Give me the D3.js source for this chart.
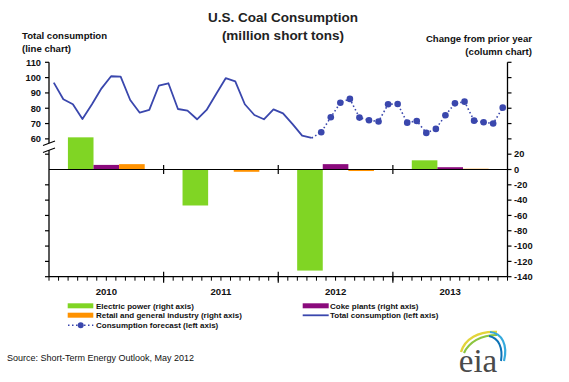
<!DOCTYPE html>
<html>
<head>
<meta charset="utf-8">
<script src="https://cdn.jsdelivr.net/npm/d3@7"></script>
<style>
  html, body { margin: 0; padding: 0; background: #fff; }
  svg { display: block; font-family: "Liberation Sans", Arial, sans-serif; }
</style>
</head>
<body>
<svg id="chart" width="569" height="382"></svg>
<script>
// ---------------- DATA ----------------
const years = ["2010", "2011", "2012", "2013"];
const seriesNames = ["Electric power", "Coke plants", "Retail and general industry"];
const electricPower = [42, -47, -132, 12];
const cokePlants = [6, 0, 7, 3];
const retailIndustry = [7, -3, -2, 1];

// Monthly total consumption, Jan 2010 - Apr 2012 (actual)
const totalConsumption = [
  96.7, 85.9, 82.6, 73.0, 82.6, 93.0, 100.9, 100.6, 85.4, 77.1, 78.9, 94.7,
  96.3, 79.5, 78.4, 72.8, 78.9, 89.3, 99.6, 97.6, 82.6, 75.6, 72.8, 79.3,
  76.7, 69.6, 62.1, 60.6
];
// Monthly consumption forecast, May 2012 - Dec 2013
const consumptionForecast = [
  64.3, 74.1, 83.6, 86.1, 73.9, 72.2, 71.3, 82.6,
  82.8, 70.6, 71.7, 63.9, 66.5, 75.4, 83.2, 84.3, 71.9, 70.9, 70.0, 80.4
];
const leftTickValues = [60, 70, 80, 90, 100, 110];
const rightTickValues = [-140, -120, -100, -80, -60, -40, -20, 0, 20];
const rightTickMarks = [-140, -120, -100, -80, -60, -40, -20, 0, 20, 40, 60, 80, 100, 120, 140];
const lowerLeftTickMarks = [-140, -120, -100, -80, -60, -40, -20, 20];

// ---------------- LAYOUT ----------------
const svg = d3.select("#chart");
const X0 = 49, X1 = 507.5, YT = 62.3, YB = 276.7;
const colors = { electric: "#80d524", coke: "#8a0a7c", retail: "#ff9200", line: "#3a47ad" };
const txt = "#111";

const yR = d3.scaleLinear().domain([-140, 140]).range([YB, YT]);
const yL = d3.scaleLinear().domain([-30, 110]).range([YB, YT]);
const months = d3.range(48);
const xM = d3.scaleBand().domain(months).range([X0, X1]).padding(0);
const xMc = i => xM(i) + xM.bandwidth() / 2;
const xY = d3.scaleBand().domain(years).range([X0, X1]).paddingInner(0.33).paddingOuter(0.165);
const xS = d3.scaleBand().domain(seriesNames).range([0, xY.bandwidth()]);

// ---------------- TITLES ----------------
svg.append("text").attr("x", 283).attr("y", 22).attr("text-anchor", "middle")
  .attr("font-size", 13.5).attr("font-weight", "bold").attr("fill", "#222").text("U.S. Coal Consumption");
svg.append("text").attr("x", 283).attr("y", 40).attr("text-anchor", "middle")
  .attr("font-size", 13.5).attr("font-weight", "bold").attr("fill", "#222").text("(million short tons)");

svg.append("text").attr("x", 22).attr("y", 39).attr("font-size", 9.6).attr("font-weight", "bold")
  .attr("fill", txt).text("Total consumption");
svg.append("text").attr("x", 22).attr("y", 51.5).attr("font-size", 9.6).attr("font-weight", "bold")
  .attr("fill", txt).text("(line chart)");
svg.append("text").attr("x", 532).attr("y", 42).attr("text-anchor", "end").attr("font-size", 9.6)
  .attr("font-weight", "bold").attr("fill", txt).text("Change from prior year");
svg.append("text").attr("x", 532).attr("y", 54.5).attr("text-anchor", "end").attr("font-size", 9.6)
  .attr("font-weight", "bold").attr("fill", txt).text("(column chart)");

// ---------------- BARS ----------------
const barData = [];
years.forEach((yr, i) => {
  barData.push({ year: yr, s: seriesNames[0], v: electricPower[i], c: colors.electric });
  barData.push({ year: yr, s: seriesNames[1], v: cokePlants[i], c: colors.coke });
  barData.push({ year: yr, s: seriesNames[2], v: retailIndustry[i], c: colors.retail });
});
svg.append("g").selectAll("rect").data(barData).join("rect")
  .attr("x", d => xY(d.year) + xS(d.s))
  .attr("width", xS.bandwidth())
  .attr("y", d => Math.min(yR(d.v), yR(0)))
  .attr("height", d => Math.abs(yR(d.v) - yR(0)))
  .attr("fill", d => d.c);

// ---------------- ZERO LINE ----------------
svg.append("line").attr("x1", X0).attr("x2", X1).attr("y1", yR(0)).attr("y2", yR(0))
  .attr("stroke", "#000").attr("stroke-width", 1.2);
const yearBounds = [1, 2, 3].map(k => xM(k * 12));
svg.append("g").selectAll("line").data(yearBounds).join("line")
  .attr("x1", d => d).attr("x2", d => d).attr("y1", yR(0) - 4.5).attr("y2", yR(0) + 4.5)
  .attr("stroke", "#000").attr("stroke-width", 1.2);

// ---------------- BOTTOM AXIS ----------------
svg.append("line").attr("x1", X0).attr("x2", X1).attr("y1", YB).attr("y2", YB)
  .attr("stroke", "#000").attr("stroke-width", 1.3);
svg.append("g").selectAll("line").data(d3.range(49)).join("line")
  .attr("x1", i => i < 48 ? xM(i) : X1).attr("x2", i => i < 48 ? xM(i) : X1)
  .attr("y1", YB).attr("y2", YB + 4)
  .attr("stroke", "#000").attr("stroke-width", 1);
svg.append("g").selectAll("line").data(yearBounds).join("line")
  .attr("x1", d => d).attr("x2", d => d).attr("y1", YB - 5).attr("y2", YB + 6)
  .attr("stroke", "#000").attr("stroke-width", 1.2);
svg.append("g").selectAll("text").data(years).join("text")
  .attr("x", d => xY(d) + xY.bandwidth() / 2).attr("y", 294.5).attr("text-anchor", "middle")
  .attr("font-size", 9.6).attr("font-weight", "bold").attr("fill", txt).text(d => d);

// ---------------- RIGHT AXIS ----------------
svg.append("line").attr("x1", X1).attr("x2", X1).attr("y1", YT).attr("y2", YB)
  .attr("stroke", "#000").attr("stroke-width", 1.3);
svg.append("g").selectAll("line").data(rightTickMarks).join("line")
  .attr("x1", X1).attr("x2", X1 + 4).attr("y1", d => yR(d)).attr("y2", d => yR(d))
  .attr("stroke", "#000").attr("stroke-width", 1.2);
svg.append("g").selectAll("text").data(rightTickValues).join("text")
  .attr("x", 514).attr("y", d => yR(d) + 3.3).attr("font-size", 9.3).attr("font-weight", "bold")
  .attr("fill", txt).text(d => d < 0 ? "-" + Math.abs(d) : d);

// ---------------- LEFT AXIS ----------------
svg.append("line").attr("x1", X0).attr("x2", X0).attr("y1", YT).attr("y2", YB)
  .attr("stroke", "#000").attr("stroke-width", 1.3);
svg.append("g").selectAll("line").data(leftTickValues).join("line")
  .attr("x1", X0 - 4).attr("x2", X0).attr("y1", d => yL(d)).attr("y2", d => yL(d))
  .attr("stroke", "#000").attr("stroke-width", 1.2);
svg.append("g").selectAll("line").data(lowerLeftTickMarks).join("line")
  .attr("x1", X0 - 4).attr("x2", X0).attr("y1", d => yR(d)).attr("y2", d => yR(d))
  .attr("stroke", "#000").attr("stroke-width", 1.2);
svg.append("g").selectAll("text").data(leftTickValues).join("text")
  .attr("x", 41).attr("y", d => yL(d) + 3.3).attr("text-anchor", "end").attr("font-size", 9.3)
  .attr("font-weight", "bold").attr("fill", txt).text(d => d);
// axis break
svg.append("path").attr("d", "M42,146 L55,141 L55,148 L42,153 Z").attr("fill", "#fff");
svg.append("line").attr("x1", 43).attr("y1", 145.5).attr("x2", 55).attr("y2", 141)
  .attr("stroke", "#000").attr("stroke-width", 1.1);
svg.append("line").attr("x1", 43).attr("y1", 152.5).attr("x2", 55).attr("y2", 148)
  .attr("stroke", "#000").attr("stroke-width", 1.1);

// ---------------- LINES ----------------
const line = d3.line().x(d => xMc(d.i)).y(d => yL(d.v));
const actual = totalConsumption.map((v, i) => ({ i, v }));
const nA = totalConsumption.length;
const fc = consumptionForecast.map((v, j) => ({ i: nA + j, v }));
svg.append("path").datum([actual[nA - 1]].concat(fc)).attr("d", line)
  .attr("fill", "none").attr("stroke", colors.line).attr("stroke-width", 1.6)
  .attr("stroke-dasharray", "1.5,2.5");
svg.append("path").datum(actual).attr("d", line)
  .attr("fill", "none").attr("stroke", colors.line).attr("stroke-width", 1.8)
  .attr("stroke-linejoin", "round");
svg.append("g").selectAll("circle").data(fc).join("circle")
  .attr("cx", d => xMc(d.i)).attr("cy", d => yL(d.v)).attr("r", 3.3).attr("fill", colors.line);

// ---------------- LEGEND ----------------
const lg = svg.append("g").attr("font-size", 8).attr("font-weight", "bold").attr("fill", txt);
lg.append("rect").attr("x", 67.7).attr("y", 303.3).attr("width", 25.6).attr("height", 5).attr("fill", colors.electric);
lg.append("text").attr("x", 96).attr("y", 308.6).text("Electric power (right axis)");
lg.append("rect").attr("x", 67.7).attr("y", 312.7).attr("width", 25.6).attr("height", 5).attr("fill", colors.retail);
lg.append("text").attr("x", 96).attr("y", 318).text("Retail and general industry (right axis)");
lg.append("line").attr("x1", 68).attr("x2", 93.3).attr("y1", 325.3).attr("y2", 325.3)
  .attr("stroke", colors.line).attr("stroke-width", 1.6).attr("stroke-dasharray", "1.5,2.5");
lg.append("circle").attr("cx", 80.7).attr("cy", 325.3).attr("r", 3).attr("fill", colors.line);
lg.append("text").attr("x", 96).attr("y", 328.4).text("Consumption forecast (left axis)");
lg.append("rect").attr("x", 302.7).attr("y", 303.3).attr("width", 26).attr("height", 5).attr("fill", colors.coke);
lg.append("text").attr("x", 330).attr("y", 308.6).text("Coke plants (right axis)");
lg.append("line").attr("x1", 302.7).attr("x2", 328.7).attr("y1", 315.3).attr("y2", 315.3)
  .attr("stroke", colors.line).attr("stroke-width", 1.8);
lg.append("text").attr("x", 330).attr("y", 318).text("Total consumption (left axis)");

// ---------------- SOURCE ----------------
svg.append("text").attr("x", 7).attr("y", 361).attr("font-size", 9).attr("fill", "#111")
  .text("Source: Short-Term Energy Outlook, May 2012");

// ---------------- LOGO ----------------
const logo = svg.append("g");
logo.append("path").attr("d", "M461,352 C465,339 478,331 497,332").attr("fill", "none")
  .attr("stroke", "#e3d43a").attr("stroke-width", 2.4);
logo.append("path").attr("d", "M464,353 C469,342 481,335 497,335").attr("fill", "none")
  .attr("stroke", "#8cc540").attr("stroke-width", 2.2);
logo.append("path").attr("d", "M490,332 C502,333 508,345 504,361").attr("fill", "none")
  .attr("stroke", "#35a9dc").attr("stroke-width", 2.2);
logo.append("path").attr("d", "M489,336 C499,338 503,348 501,361").attr("fill", "none")
  .attr("stroke", "#0c72b6").attr("stroke-width", 2);
logo.append("text").attr("x", 478).attr("y", 372).attr("text-anchor", "middle")
  .attr("font-family", "'Liberation Serif', 'Times New Roman', serif").attr("font-size", 33)
  .attr("fill", "#4a4a4a").text("eia");
</script>
</body>
</html>
